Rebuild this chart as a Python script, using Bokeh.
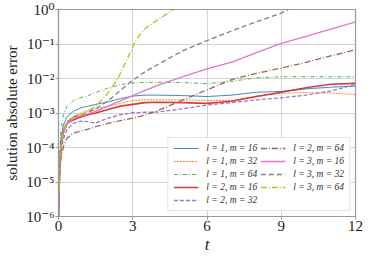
from bokeh.plotting import figure
from bokeh.models import FixedTicker, CustomJSTickFormatter, Legend, LegendItem, Range1d
from bokeh.embed import file_html
from bokeh.resources import INLINE

# time samples
t = [0, 0.04, 0.1, 0.2, 0.35, 0.6, 0.9, 1.2, 1.5, 2, 2.5, 3, 3.5, 4, 5, 6, 7, 8, 9, 10, 11, 12]
t_l3m32 = [0, 0.04, 0.1, 0.2, 0.35, 0.6, 0.9, 1.2, 1.5, 2, 2.5, 3, 3.5, 4, 5, 6, 7, 8, 9, 9.3]
t_l3m64 = [0, 0.04, 0.1, 0.2, 0.35, 0.6, 0.9, 1.2, 1.5, 1.7, 2.0, 2.4, 2.8, 3.15, 3.5, 4.0, 4.65]

# solution absolute error for each (l, m)
err_l1m16 = [1e-6, 2.5e-5, 1.8e-4, 4.5e-4, 7.9e-4, 1.12e-3, 1.41e-3, 1.58e-3, 1.78e-3, 2.1e-3, 2.6e-3,
             3.1e-3, 3.3e-3, 3.3e-3, 3.2e-3, 3.0e-3, 3.3e-3, 4.0e-3, 4.2e-3, 5.0e-3, 5.6e-3, 6.0e-3]
err_l1m32 = [1e-6, 2.0e-5, 1.26e-4, 3.2e-4, 5.6e-4, 7.9e-4, 1.0e-3, 1.2e-3, 1.32e-3, 1.58e-3, 1.9e-3,
             2.3e-3, 2.4e-3, 2.4e-3, 2.4e-3, 2.3e-3, 2.3e-3, 3.1e-3, 3.7e-3, 3.9e-3, 3.8e-3, 3.4e-3]
err_l1m64 = [1e-6, 4.0e-5, 3.2e-4, 8.9e-4, 1.58e-3, 2.3e-3, 2.8e-3, 3.2e-3, 3.9e-3, 5.3e-3, 6.6e-3,
             7.4e-3, 7.7e-3, 7.8e-3, 7.6e-3, 7.1e-3, 8.3e-3, 1.05e-2, 1.12e-2, 1.13e-2, 1.12e-2, 1.12e-2]
err_l2m16 = [1e-6, 1.58e-5, 1.12e-4, 2.8e-4, 5.0e-4, 6.3e-4, 7.6e-4, 8.9e-4, 1.0e-3, 1.26e-3, 1.58e-3,
             1.78e-3, 2.0e-3, 2.05e-3, 2.0e-3, 1.9e-3, 2.2e-3, 3.0e-3, 4.0e-3, 5.4e-3, 6.8e-3, 7.2e-3]
err_l2m32 = [1e-6, 1.26e-5, 7.9e-5, 1.78e-4, 3.3e-4, 5.0e-4, 5.8e-4, 5.6e-4, 5.1e-4, 7.1e-4, 8.9e-4,
             1.02e-3, 1.05e-3, 1.07e-3, 1.32e-3, 1.7e-3, 2.0e-3, 2.4e-3, 2.75e-3, 3.3e-3, 4.3e-3, 6.8e-3]
err_l2m64 = [1e-6, 1.0e-5, 5.0e-5, 1.07e-4, 1.9e-4, 2.6e-4, 3.0e-4, 3.4e-4, 4.0e-4, 5.0e-4, 6.0e-4,
             7.1e-4, 8.7e-4, 1.17e-3, 2.35e-3, 4.7e-3, 9.3e-3, 1.41e-2, 2.0e-2, 2.95e-2, 4.5e-2, 6.8e-2]
err_l3m16 = [1e-6, 1.58e-5, 1.12e-4, 2.8e-4, 5.0e-4, 7.1e-4, 8.3e-4, 9.5e-4, 1.12e-3, 1.58e-3, 2.24e-3,
             3.2e-3, 4.5e-3, 6.3e-3, 1.12e-2, 1.9e-2, 3.0e-2, 5.6e-2, 0.105, 0.166, 0.27, 0.44]
err_l3m32 = [1e-6, 2.0e-5, 1.26e-4, 3.2e-4, 5.6e-4, 7.6e-4, 8.9e-4, 1.05e-3, 1.32e-3, 2.24e-3, 4.5e-3,
             8.9e-3, 1.58e-2, 2.5e-2, 6.3e-2, 0.126, 0.24, 0.44, 0.79, 1.0]
err_l3m64 = [1e-6, 2.0e-5, 1.26e-4, 3.2e-4, 5.6e-4, 7.6e-4, 8.9e-4, 1.12e-3, 1.58e-3, 2.2e-3, 3.8e-3,
             1.0e-2, 4.0e-2, 0.141, 0.28, 0.5, 1.0]

labels = ["l = 1, m = 16", "l = 1, m = 32", "l = 1, m = 64",
          "l = 2, m = 16", "l = 2, m = 32", "l = 2, m = 64",
          "l = 3, m = 16", "l = 3, m = 32", "l = 3, m = 64"]

x_ticks = [0, 3, 6, 9, 12]
y_ticks = [1e-6, 1e-5, 1e-4, 1e-3, 1e-2, 1e-1, 1]

SERIF = "'Liberation Serif', 'DejaVu Serif', serif"

p = figure(width=367, height=257, y_axis_type="log", output_backend="svg", toolbar_location=None,
           x_range=Range1d(0, 12), y_range=Range1d(1e-6, 1),
           min_border_left=58, min_border_right=12, min_border_top=9, min_border_bottom=41)

series = [
    (t, err_l1m16, "#1f77b4", "solid", 1.0, 0.85),
    (t, err_l1m32, "#ff7f0e", "2 1", 1.0, 0.9),
    (t, err_l1m64, "#2ca02c", "4 2 1 2", 1.0, 0.8),
    (t, err_l2m16, "#d62728", "solid", 1.6, 0.9),
    (t, err_l2m32, "#9467bd", "4 2", 1.3, 0.9),
    (t, err_l2m64, "#8c564b", "6 2 1 2", 1.3, 0.9),
    (t, err_l3m16, "#e377c2", "solid", 1.3, 1.0),
    (t_l3m32, err_l3m32, "#7f7f7f", "5 3", 1.3, 1.0),
    (t_l3m64, err_l3m64, "#bcbd22", "6 2 1 2", 1.3, 1.0),
]

items = []
for (xs, ys, c, dash, w, a), lab in zip(series, labels):
    r = p.line(xs, ys, line_color=c, line_dash=dash, line_width=w, line_alpha=a)
    items.append(LegendItem(label=lab, renderers=[r]))

# axes
p.xaxis.ticker = FixedTicker(ticks=x_ticks, minor_ticks=[])
p.yaxis.ticker = FixedTicker(ticks=y_ticks, minor_ticks=[])
p.yaxis.formatter = CustomJSTickFormatter(code="""
const sup = {"0":"\u2070","1":"\u00b9","2":"\u00b2","3":"\u00b3","4":"\u2074","5":"\u2075","6":"\u2076","7":"\u2077","8":"\u2078","9":"\u2079","-":"\u207b"};
const e = Math.round(Math.log10(tick));
return "10" + String(e).split("").map(c => sup[c]).join("");
""")
for ax in (p.xaxis, p.yaxis):
    ax.axis_line_color = "#999999"
    ax.axis_line_width = 1.2
    ax.major_tick_line_color = "#999999"
    ax.major_tick_out = 3
    ax.major_tick_in = 0
    ax.minor_tick_line_color = None
    ax.major_label_text_font = SERIF
    ax.major_label_text_font_size = "15px"
    ax.major_label_text_color = "#222222"
    ax.axis_label_text_font = SERIF
    ax.axis_label_text_color = "#222222"
    ax.major_label_standoff = 1

p.xaxis.axis_label = "t"
p.xaxis.axis_label_text_font_style = "italic"
p.xaxis.axis_label_text_font_size = "17px"
p.xaxis.axis_label_standoff = 1
p.yaxis.axis_label = "solution absolute error"
p.yaxis.axis_label_text_font_style = "normal"
p.yaxis.axis_label_text_font_size = "15px"
p.yaxis.axis_label_standoff = 3

p.outline_line_color = "#999999"
p.outline_line_width = 1.2
p.xgrid.grid_line_color = "#d4d4d4"
p.ygrid.grid_line_color = "#d4d4d4"
p.xgrid.grid_line_width = 1
p.ygrid.grid_line_width = 1
p.background_fill_color = "white"
p.border_fill_color = "white"

legend = Legend(items=items, location="bottom_right", ncols=2)
legend.label_text_font = SERIF
legend.label_text_font_style = "italic"
legend.label_text_font_size = "9.5px"
legend.label_text_color = "#333333"
legend.glyph_width = 25
legend.glyph_height = 10
legend.label_height = 10
legend.label_standoff = 8
legend.spacing = 3
legend.padding = 5
legend.margin = 5
legend.border_line_color = "#cccccc"
legend.border_line_width = 1
legend.background_fill_alpha = 0.95
p.add_layout(legend)

open("out.html", "w").write(file_html(p, INLINE))
